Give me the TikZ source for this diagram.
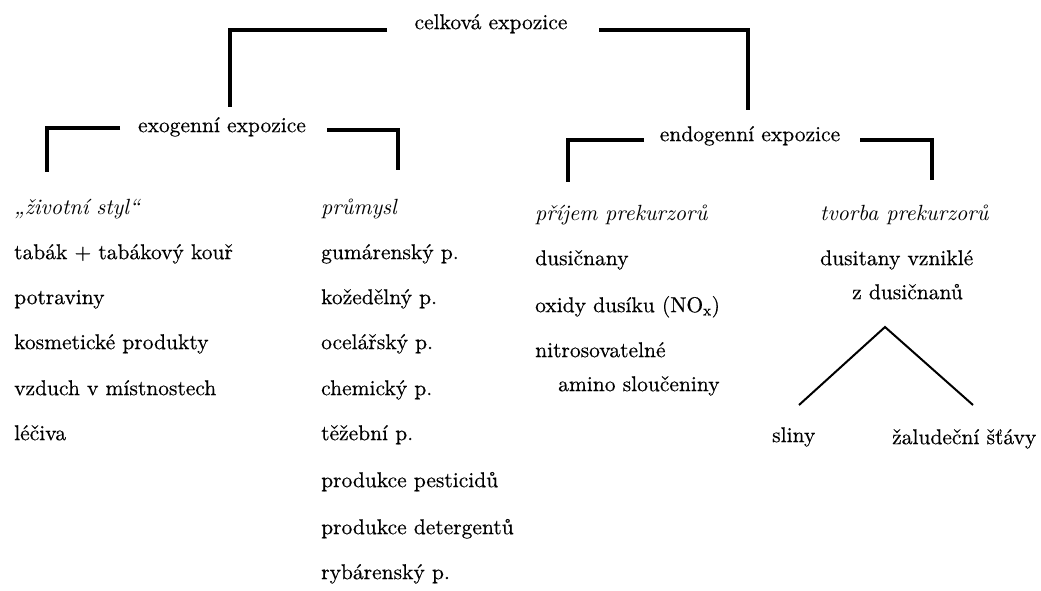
\documentclass[tikz,border=0pt]{standalone}
\usepackage{fontspec}
\setmainfont{lmroman10-regular.otf}[BoldFont=lmroman10-regular.otf,BoldFeatures={FakeBold=0.4},ItalicFont=lmroman10-italic.otf,BoldItalicFont=lmroman10-italic.otf]
\begin{document}
\begin{tikzpicture}[x=1pt,y=-1pt,
  lbl/.style={inner sep=0pt,anchor=mid west,font=\fontsize{21.5}{26}\selectfont\bfseries},
  hd/.style={lbl,font=\fontsize{22}{26}\selectfont\mdseries\itshape},
  br/.style={line width=3.8pt},
  tri/.style={line width=2pt}]
\useasboundingbox[fill=white] (0,0) rectangle (1041,590);
% headings
\node[lbl,anchor=mid] (celk) at (491,27) {celková expozice};
\node[lbl,anchor=mid] (exo) at (222,130) {exogenní expozice};
\node[lbl,anchor=mid] (endo) at (750,139) {endogenní expozice};
% bracket coordinates
\coordinate (c1s) at (387,30); \coordinate (c1) at (230,30);
\coordinate (c2s) at (599,30); \coordinate (c2) at (748,30);
\coordinate (e1s) at (120,128); \coordinate (e1) at (47,128);
\coordinate (e2s) at (327,130); \coordinate (e2) at (398,130);
\coordinate (n1s) at (644,140); \coordinate (n1) at (568,140);
\coordinate (n2s) at (860,140); \coordinate (n2) at (932,140);
\coordinate (zsT) at (47,172); \coordinate (prT) at (398,170);
\coordinate (ppT) at (568,182); \coordinate (tpT) at (932,180);
\coordinate (exoT) at (230,107); \coordinate (endoT) at (748,110);
\draw[br] (c1s) -- (c1) -- (exoT);
\draw[br] (c2s) -- (c2) -- (endoT);
\draw[br] (e1s) -- (e1) -- (zsT);
\draw[br] (e2s) -- (e2) -- (prT);
\draw[br] (n1s) -- (n1) -- (ppT);
\draw[br] (n2s) -- (n2) -- (tpT);
% column 1
\node[hd] (zs) at (14,212) {„životní styl“};
\node[lbl] (a1) at (14,257) {tabák + tabákový kouř};
\node[lbl] (a2) at (14,302) {potraviny};
\node[lbl] (a3) at (14,347) {kosmetické produkty};
\node[lbl] (a4) at (14,393) {vzduch v místnostech};
\node[lbl] (a5) at (14,438) {léčiva};
% column 2
\node[hd] (pr) at (321,212) {průmysl};
\node[lbl] (b1) at (321,257) {gumárenský p.};
\node[lbl] (b2) at (321,302) {kožedělný p.};
\node[lbl] (b3) at (321,347) {ocelářský p.};
\node[lbl] (b4) at (321,393) {chemický p.};
\node[lbl] (b5) at (321,438) {těžební p.};
\node[lbl] (b6) at (321,485) {produkce pesticidů};
\node[lbl] (b7) at (321,532) {produkce detergentů};
\node[lbl] (b8) at (321,577) {rybárenský p.};
% column 3
\node[hd] (pp) at (535,218) {příjem prekurzorů};
\node[lbl] (d1) at (535,263) {dusičnany};
\node[lbl] (d2) at (535,310) {oxidy dusíku (NO\textsubscript{x})};
\node[lbl] (d3) at (535,355) {nitrosovatelné};
\node[lbl] (d4) at (558,389) {amino sloučeniny};
% column 4
\node[hd] (tp) at (820,218) {tvorba prekurzorů};
\node[lbl] (f1) at (820,263) {dusitany vzniklé};
\node[lbl] (f2) at (852,297) {z dusičnanů};
\node[lbl] (sl) at (772,440) {sliny};
\node[lbl] (zst) at (892,442) {žaludeční šťávy};
\coordinate (apex) at (885,327);
\coordinate (tl) at (799,405);
\coordinate (tr) at (973,405);
\draw[tri] (tl) -- (apex) -- (tr);
\end{tikzpicture}
\end{document}
